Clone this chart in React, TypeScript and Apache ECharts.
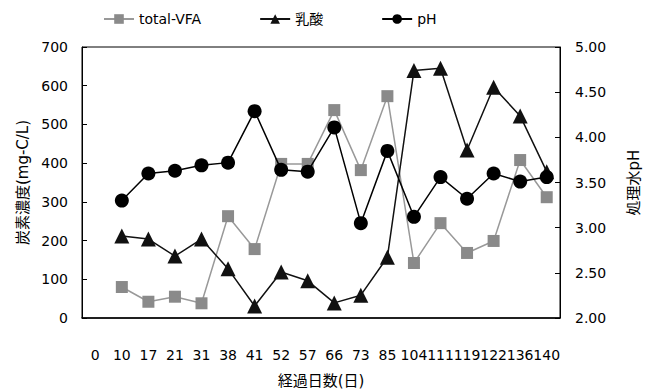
import React, { useEffect, useRef } from "react";
import * as echarts from "echarts";

const days = ["0", "10", "17", "21", "31", "38", "41", "52", "57", "66", "73", "85", "104", "111", "119", "122", "136", "140"];
const totalVFA = [null, 80, 42, 55, 38, 263, 178, 398, 398, 537, 382, 573, 142, 245, 168, 199, 408, 312];
const lactic = [null, 212, 204, 160, 204, 127, 31, 119, 96, 39, 59, 157, 639, 645, 434, 596, 522, 378];
const pH = [null, 3.30, 3.60, 3.63, 3.69, 3.72, 4.29, 3.64, 3.62, 4.11, 3.05, 3.85, 3.12, 3.56, 3.32, 3.60, 3.51, 3.56];

const FONT = "DejaVu Sans, Noto Sans CJK JP, sans-serif";

export default function App() {
  const ref = useRef<HTMLDivElement>(null);
  useEffect(() => {
    const chart = echarts.init(ref.current!, null, { renderer: "svg" });
    chart.setOption({
      animation: false,
      textStyle: { fontFamily: FONT, color: "#000" },
      legend: {
        top: 7,
        left: 98,
        itemWidth: 30,
        itemHeight: 12,
        itemGap: 58,
        textStyle: { fontSize: 14, color: "#000", fontFamily: FONT },
        data: ["total-VFA", "乳酸", "pH"],
      },
      grid: {
        left: 82, right: 91, top: 47, bottom: 72,
        containLabel: false, outerBoundsMode: "none",
        show: true, borderColor: "#000", borderWidth: 1, backgroundColor: "transparent",
      },
      xAxis: {
        type: "category",
        data: days,
        boundaryGap: true,
        name: "経過日数(日)",
        nameLocation: "middle",
        nameGap: 55,
        nameTextStyle: { fontSize: 15, color: "#000", fontFamily: FONT },
        axisLine: { lineStyle: { color: "#000", width: 1.5 } },
        axisTick: { inside: true, length: 5, lineStyle: { color: "#000" } },
        axisLabel: { interval: 0, fontSize: 14, color: "#000", margin: 30, fontFamily: FONT, hideOverlap: false },
        splitLine: { show: false },
      },
      yAxis: [
        {
          type: "value",
          min: 0,
          max: 700,
          interval: 100,
          name: "炭素濃度(mg-C/L)",
          nameLocation: "middle",
          nameGap: 51,
          nameTextStyle: { fontSize: 15, color: "#000", fontFamily: FONT },
          axisLine: { show: true, lineStyle: { color: "#000" } },
          axisTick: { show: true, inside: true, length: 5, lineStyle: { color: "#000" } },
          axisLabel: { fontSize: 14, color: "#000", margin: 14, fontFamily: FONT },
          splitLine: { show: false },
        },
        {
          type: "value",
          min: 2,
          max: 5,
          interval: 0.5,
          position: "right",
          name: "処理水pH",
          nameLocation: "middle",
          nameGap: 66,
          nameRotate: 90,
          nameTextStyle: { fontSize: 15, color: "#000", fontFamily: FONT },
          axisLine: { show: true, lineStyle: { color: "#000" } },
          axisTick: { show: true, inside: true, length: 5, lineStyle: { color: "#000" } },
          axisLabel: { fontSize: 14, color: "#000", margin: 15, fontFamily: FONT, formatter: (v: number) => v.toFixed(2) },
          splitLine: { show: false },
        },
      ],
      series: [
        {
          name: "total-VFA",
          type: "line",
          data: totalVFA,
          yAxisIndex: 0,
          symbol: "rect",
          symbolSize: 12,
          itemStyle: { color: "#8a8a8a" },
          lineStyle: { color: "#999", width: 1.5 },
          z: 2,
        },
        {
          name: "乳酸",
          type: "line",
          data: lactic,
          yAxisIndex: 0,
          symbol: "triangle",
          symbolSize: 15,
          itemStyle: { color: "#111" },
          lineStyle: { color: "#111", width: 1.5 },
          z: 3,
        },
        {
          name: "pH",
          type: "line",
          data: pH,
          yAxisIndex: 1,
          symbol: "circle",
          symbolSize: 14,
          itemStyle: { color: "#000" },
          lineStyle: { color: "#000", width: 1.5 },
          z: 4,
        },
      ],
    });
    return () => chart.dispose();
  }, []);
  return <div ref={ref} style={{ width: 651, height: 390, position: "absolute", left: 0, top: 0 }} />;
}
